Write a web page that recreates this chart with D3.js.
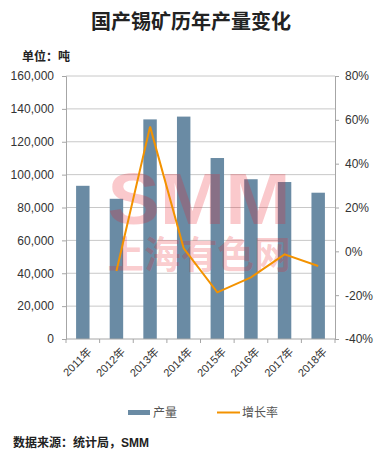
<!DOCTYPE html>
<html>
<head>
<meta charset="utf-8">
<script src="https://cdn.jsdelivr.net/npm/d3@7"></script>
<style>
  body { margin: 0; background: #fff; }
  text { font-family: "Liberation Sans", "Noto Sans CJK SC", sans-serif; }
</style>
</head>
<body>
<div id="container"></div>
<script>
// data
let years = ["2011年", "2012年", "2013年", "2014年", "2015年", "2016年", "2017年", "2018年"];
let output = [93200, 85300, 133600, 135300, 110100, 97200, 95500, 89000];
let growth = [null, -9.0, 56.9, 1.4, -18.7, -11.9, -1.4, -6.7];
let leftTicks = [0, 20000, 40000, 60000, 80000, 100000, 120000, 140000, 160000];
let rightTicks = [-40, -20, 0, 20, 40, 60, 80];

let w = 378;
let h = 454;
let plotLeft = 66, plotRight = 335, plotTop = 76, plotBottom = 339;

let viz = d3.select("#container")
  .append("svg")
    .attr("width", w)
    .attr("height", h)
    .style("background-color", "white");

let cjk = "'Noto Sans CJK SC', sans-serif";

// title
viz.append("text")
  .text("国产锡矿历年产量变化")
  .attr("x", 191)
  .attr("y", 29)
  .attr("text-anchor", "middle")
  .attr("font-family", cjk)
  .attr("font-weight", "bold")
  .attr("font-size", 20)
  .attr("fill", "#222");

viz.append("text")
  .text("单位：吨")
  .attr("x", 22)
  .attr("y", 61)
  .attr("font-family", cjk)
  .attr("font-weight", "bold")
  .attr("font-size", 12)
  .attr("fill", "#222");

let xScale = d3.scaleBand().domain(years).range([plotLeft, plotRight]).paddingInner(0.6).paddingOuter(0.3);
let yScale = d3.scaleLinear().domain([0, 160000]).range([plotBottom, plotTop]);
let gScale = d3.scaleLinear().domain([-40, 80]).range([plotBottom, plotTop]);

// gridlines
viz.append("g")
  .selectAll("line")
  .data(leftTicks.slice(1))
  .enter()
  .append("line")
    .attr("x1", plotLeft)
    .attr("x2", plotRight)
    .attr("y1", d => yScale(d))
    .attr("y2", d => yScale(d))
    .attr("stroke", "#c8c8c8")
    .attr("stroke-width", 1);

// bars
viz.append("g")
  .selectAll("rect")
  .data(output)
  .enter()
  .append("rect")
    .attr("x", (d, i) => xScale(years[i]))
    .attr("y", d => yScale(d))
    .attr("width", xScale.bandwidth())
    .attr("height", d => plotBottom - yScale(d))
    .attr("fill", "#6a8ba4");

// watermark
let wmFill = "rgba(235,30,40,0.24)";
viz.append("text")
  .text("SMM")
  .attr("x", 199)
  .attr("y", 224)
  .attr("text-anchor", "middle")
  .attr("font-family", "'Liberation Sans', sans-serif")
  .attr("font-weight", "bold")
  .attr("font-size", 72)
  .attr("textLength", 183)
  .attr("lengthAdjust", "spacingAndGlyphs")
  .attr("fill", wmFill);

viz.append("text")
  .text("上海有色网")
  .attr("x", 199)
  .attr("y", 268)
  .attr("text-anchor", "middle")
  .attr("font-family", cjk)
  .attr("font-weight", "bold")
  .attr("font-size", 38)
  .attr("textLength", 183)
  .attr("lengthAdjust", "spacingAndGlyphs")
  .attr("fill", wmFill);

// growth line
let line = d3.line()
  .defined(d => d.v != null)
  .x(d => xScale(d.y) + xScale.bandwidth() / 2)
  .y(d => gScale(d.v));

viz.append("path")
  .datum(years.map((y, i) => ({ y: y, v: growth[i] })))
  .attr("d", line)
  .attr("fill", "none")
  .attr("stroke", "#f39200")
  .attr("stroke-width", 2);

// axes
let axisColor = "#a6a6a6";
let xAxisBand = d3.scalePoint().domain(d3.range(9)).range([plotLeft, plotRight]);

let xAxisGroup = viz.append("g").attr("transform", "translate(0," + plotBottom + ")");
xAxisGroup.append("line").attr("x1", plotLeft).attr("x2", plotRight).attr("stroke", axisColor);
xAxisGroup.selectAll(".tk").data(d3.range(9)).enter().append("line")
  .attr("x1", d => xAxisBand(d)).attr("x2", d => xAxisBand(d))
  .attr("y1", 0).attr("y2", 4).attr("stroke", axisColor);
xAxisGroup.selectAll(".lbl").data(years).enter().append("text")
  .text(d => d)
  .attr("transform", d => "translate(" + (xScale(d) + xScale.bandwidth() / 2 + 4) + ",8) rotate(-45)")
  .attr("text-anchor", "end")
  .attr("dy", "0.7em")
  .attr("font-family", cjk)
  .attr("font-size", 11)
  .attr("fill", "#333");

let yAxis = d3.axisLeft(yScale).tickValues(leftTicks).tickFormat(d3.format(",")).tickSize(4).tickPadding(8);
let yAxisGroup = viz.append("g").attr("transform", "translate(" + plotLeft + ",0)").call(yAxis);
yAxisGroup.select(".domain").attr("stroke", axisColor);
yAxisGroup.selectAll(".tick line").attr("stroke", axisColor);
yAxisGroup.selectAll("text").attr("font-size", 12).attr("fill", "#333")
  .attr("font-family", "'Liberation Sans', sans-serif");

let gAxis = d3.axisRight(gScale).tickValues(rightTicks).tickFormat(d => d + "%").tickSize(4).tickPadding(6);
let gAxisGroup = viz.append("g").attr("transform", "translate(" + plotRight + ",0)").call(gAxis);
gAxisGroup.select(".domain").attr("stroke", axisColor);
gAxisGroup.selectAll(".tick line").attr("stroke", axisColor);
gAxisGroup.selectAll("text").attr("font-size", 12).attr("fill", "#333")
  .attr("font-family", "'Liberation Sans', sans-serif");

// legend
let legend = viz.append("g");
legend.append("rect")
  .attr("x", 128).attr("y", 410).attr("width", 22).attr("height", 5)
  .attr("fill", "#6a8ba4");
legend.append("text")
  .text("产量")
  .attr("x", 153).attr("y", 417)
  .attr("font-family", cjk).attr("font-size", 12).attr("fill", "#555");
legend.append("line")
  .attr("x1", 217).attr("x2", 240).attr("y1", 412.5).attr("y2", 412.5)
  .attr("stroke", "#f39200").attr("stroke-width", 2);
legend.append("text")
  .text("增长率")
  .attr("x", 242).attr("y", 417)
  .attr("font-family", cjk).attr("font-size", 12).attr("fill", "#555");

// source
viz.append("text")
  .text("数据来源：统计局，SMM")
  .attr("x", 13)
  .attr("y", 447)
  .attr("font-family", cjk)
  .attr("font-weight", "bold")
  .attr("font-size", 12)
  .attr("fill", "#222");
</script>
</body>
</html>
